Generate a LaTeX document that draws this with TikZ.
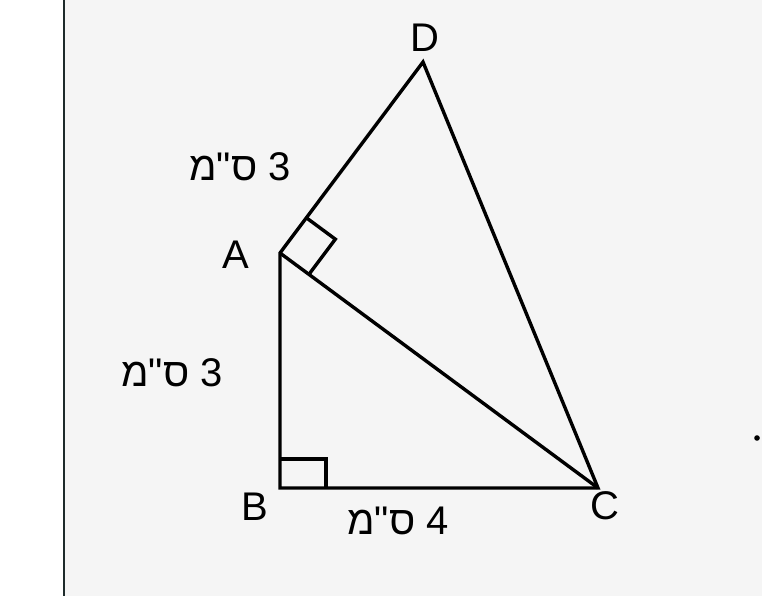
\documentclass[tikz,border=0pt]{standalone}
\usepackage{fontspec}
\setmainfont{Liberation Sans}
\newfontfamily\hebfont[Script=Hebrew]{Liberation Sans}
\TeXXeTstate=1
\usetikzlibrary{calc}
\definecolor{bggray}{HTML}{F5F5F5}
\definecolor{edgedark}{HTML}{1E2B2B}
\tikzset{
  edge/.style={line width=3.4pt, line join=miter, black},
  pt/.style={font=\fontsize{40}{48}\selectfont, inner sep=0pt},
  meas/.style={font=\hebfont\fontsize{40}{48}\selectfont, inner sep=0pt}
}
\begin{document}
\begin{tikzpicture}[x=1pt,y=-1pt]
\useasboundingbox (0,0) rectangle (762,596);
\fill[bggray] (65,0) rectangle (762,596);
\draw[edgedark, line width=1.6pt] (64.2,0) -- (64.2,596);
\coordinate (A) at (280,253);
\coordinate (B) at (280,488);
\coordinate (C) at (598,488);
\coordinate (D) at (423,62);
\draw[edge] (A) -- (B) -- (C) -- (D) -- cycle;
\draw[edge] (A) -- (C);
% right angle markers
\coordinate (aD) at ($(A)!44pt!(D)$);
\coordinate (aC) at ($(A)!36pt!(C)$);
\coordinate (aX) at ($(aD)+(aC)-(A)$);
\draw[edge] (aD) -- (aX) -- (aC);
\coordinate (bA) at ($(B)!29pt!(A)$);
\coordinate (bC) at ($(B)!46pt!(C)$);
\coordinate (bX) at ($(bA)+(bC)-(B)$);
\draw[edge] (bA) -- (bX) -- (bC);
% point labels
\node[pt] (lD) at (425,38) {D};
\node[pt] (lA) at (236,255) {A};
\node[pt] (lB) at (255,507) {B};
\node[pt] (lC) at (605,506) {C};
% measurements
\node[meas] (m1) at (240,167) {\beginR 3 ס"מ\endR};
\node[meas] (m2) at (172,373) {\beginR 3 ס"מ\endR};
\node[meas] (m3) at (398,521) {\beginR 4 ס"מ\endR};
\fill[black] (757,438) circle (2.8);
\end{tikzpicture}
\end{document}
